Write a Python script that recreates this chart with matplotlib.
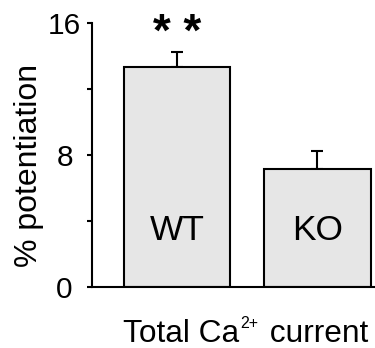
import matplotlib
matplotlib.use("Agg")
import matplotlib.pyplot as plt

plt.rcParams['font.family'] = ['Liberation Sans', 'DejaVu Sans']

# data
groups = ["WT", "KO"]
means = [13.35, 7.15]
errors = [0.9, 1.1]
yticks = [0, 8, 16]
yminor = [4, 12]

W, H = 375, 348
fig = plt.figure(figsize=(W / 100, H / 100), dpi=100)
ax = fig.add_axes([92 / W, 1 - 287 / H, 1 - 92 / W, 264 / H])

x = [0, 1]
ax.bar(x, means, width=0.76, color="#e6e6e6", edgecolor="black", linewidth=1.5, zorder=2)
ax.errorbar(x, means, yerr=[[0, 0], errors], fmt="none", ecolor="black",
            elinewidth=1.5, capsize=4.3, capthick=1.5, zorder=1)

for xi, g in zip(x, groups):
    ax.text(xi, 2.85, g, ha="center", va="baseline", fontsize=25.5)

ax.text(0, 14.6, "* *", ha="center", va="baseline", fontsize=33,
        fontweight="bold", clip_on=False)

ax.set_xlim(-0.606, 1.41)
ax.set_ylim(0, 16)
ax.set_yticks(yticks)
ax.set_yticks(yminor, minor=True)
ax.set_yticklabels([str(t) for t in yticks], fontsize=21.5)
for lbl in ax.get_yticklabels():
    lbl.set_horizontalalignment("center")
ax.set_xticks([])
ax.tick_params(axis="y", which="both", direction="out", length=3.3, width=1.5, pad=16.5)

for s in ["top", "right"]:
    ax.spines[s].set_visible(False)
for s in ["left", "bottom"]:
    ax.spines[s].set_linewidth(1.5)

# y label placed by hand
fig.text(29 / W, 1 - 165 / H, "% potentiation", rotation=90, ha="center", va="center", fontsize=23)

# x label with small superscript
r = fig.canvas.get_renderer()
base_y = 1 - 342 / H
t1 = fig.text(123 / W, base_y, "Total Ca", ha="left", va="baseline", fontsize=22.8)
x1 = t1.get_window_extent(r).x1 / W + 1 / W
t2 = fig.text(x1, 1 - 316 / H, "2+", ha="left", va="top", fontsize=11.5)
x2 = t2.get_window_extent(r).x1 / W + 3 / W
fig.text(x2, base_y, " current", ha="left", va="baseline", fontsize=22.8)

fig.savefig("out.png", dpi=100)
